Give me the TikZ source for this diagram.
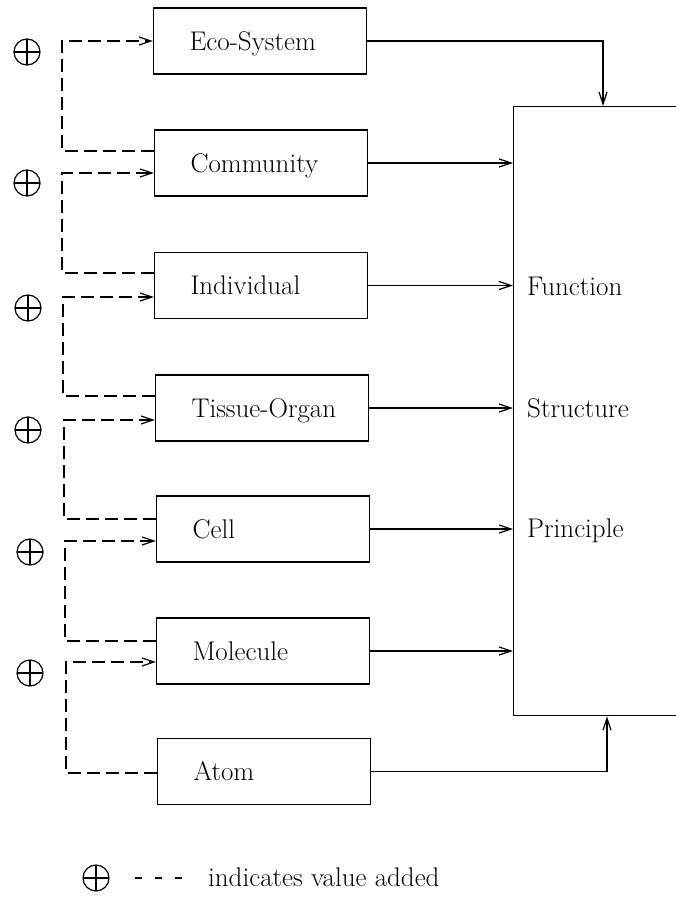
\documentclass[tikz,border=0pt]{standalone}
\usepackage{fontspec}
\usetikzlibrary{arrows.meta,calc}
\begin{document}
\begin{tikzpicture}[x=1pt,y=-1pt,
  every node/.style={font=\fontsize{27}{32}\selectfont},
  box/.style={draw, line width=1.3pt, minimum width=213pt, minimum height=66pt,
    text width=141pt, inner xsep=36pt, inner ysep=0pt, align=left,
    text height=18.4pt, text depth=0pt},
  lbl/.style={anchor=west, inner sep=0pt, text height=18.4pt, text depth=0pt},
  flow/.style={line width=1.2pt, -{Straight Barb[length=12pt,width=8pt,line width=1.2pt]}},
  dashflow/.style={flow, dash pattern=on 13pt off 6pt},
  plus/.style={circle, draw, line width=1.2pt, minimum size=26pt, inner sep=0pt,
    path picture={\draw[line width=1.1pt]
      (path picture bounding box.north) -- (path picture bounding box.south)
      (path picture bounding box.west) -- (path picture bounding box.east);}}
]
\path[use as bounding box] (0,0) rectangle (676,902);
\clip (0,0) rectangle (676,902);
\fill[white] (0,0) rectangle (676,902);

% the large target box, running off the right edge
\node[draw, line width=1.3pt, minimum width=260pt, minimum height=609pt,
      anchor=north west, inner sep=0pt] (big) at (513,106) {};
\node[lbl] (fn) at (527,286) {Function};
\node[lbl] (st) at (527,408) {Structure};
\node[lbl] (pr) at (527,528) {Principle};

% hierarchy levels
\node[box] (eco)    at (260,41)    {\mbox{Eco-System}};
\node[box] (comm)   at (261,163)   {Community};
\node[box] (indiv)  at (261,285.5) {Individual};
\node[box] (tissue) at (262,408)   {\mbox{Tissue-Organ}};
\node[box] (cell)   at (263,529)   {Cell};
\node[box] (mol)    at (263,651)   {Molecule};
\node[box] (atom)   at (264,771.5) {Atom};

% solid connectors into the large box
\draw[flow] (eco.east) -| ($(big.north west)+(90,0)$);
\foreach \n in {comm,indiv,tissue,cell,mol}
  \draw[flow] (\n.east) -- (\n.east -| big.west);
\draw[flow] (atom.east) -| ($(big.south west)+(94,0)$);

% entry and exit points of the dashed links
\coordinate (comm-out)   at ([yshift=12pt]comm.west);
\coordinate (comm-in)    at ([yshift=-10pt]comm.west);
\coordinate (indiv-out)  at ([yshift=12.5pt]indiv.west);
\coordinate (indiv-in)   at ([yshift=-11.5pt]indiv.west);
\coordinate (tissue-out) at ([yshift=12pt]tissue.west);
\coordinate (tissue-in)  at ([yshift=-12pt]tissue.west);
\coordinate (cell-out)   at ([yshift=10pt]cell.west);
\coordinate (cell-in)    at ([yshift=-12pt]cell.west);
\coordinate (mol-out)    at ([yshift=10pt]mol.west);
\coordinate (mol-in)     at ([yshift=-11pt]mol.west);
\coordinate (atom-out)   at ([yshift=-1.5pt]atom.west);

% dashed value-added links, each from a level up to the next
\draw[dashflow] (comm-out)   -| (62,0 |- eco.west) -- (eco.west);
\draw[dashflow] (indiv-out)  -| (62,0 |- comm-in) -- (comm-in);
\draw[dashflow] (tissue-out) -| (63,0 |- indiv-in) -- (indiv-in);
\draw[dashflow] (cell-out)   -| (64,0 |- tissue-in) -- (tissue-in);
\draw[dashflow] (mol-out)    -| (65,0 |- cell-in) -- (cell-in);
\draw[dashflow] (atom-out)   -| (66,0 |- mol-in) -- (mol-in);

% value-added marks
\node[plus] (p1) at (27,52)  {};
\node[plus] (p2) at (27,183) {};
\node[plus] (p3) at (28,308) {};
\node[plus] (p4) at (28,430) {};
\node[plus] (p5) at (30,552) {};
\node[plus] (p6) at (30,673) {};

% key
\node[plus] (key) at (96,878) {};
\draw[line width=1.2pt, dash pattern=on 7pt off 13pt]
  ([xshift=25pt]key.east) -- ++(50,0);
\node[anchor=base west, inner sep=0pt] (keytext) at (208,886) {indicates value added};
\end{tikzpicture}
\end{document}
